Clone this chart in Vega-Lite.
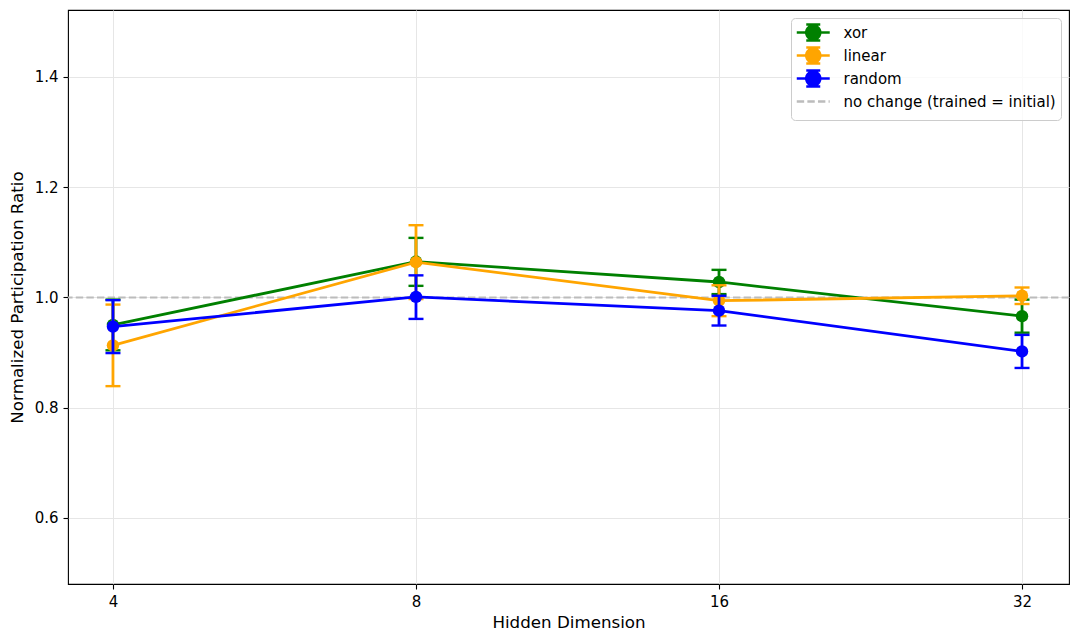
{
  "$schema": "https://vega.github.io/schema/vega-lite/v6.json",
  "width": 1001,
  "height": 574,
  "autosize": "none",
  "padding": {"left": 68, "top": 10, "right": 10, "bottom": 59},
  "background": "white",
  "config": {
    "font": "DejaVu Sans",
    "view": {"stroke": "black", "strokeWidth": 1.1},
    "axis": {
      "domain": false,
      "grid": true,
      "gridColor": "#e6e6e6",
      "gridWidth": 1,
      "tickColor": "black",
      "tickSize": 5,
      "tickWidth": 1.1,
      "labelFontSize": 15,
      "labelColor": "black",
      "labelFont": "DejaVu Sans",
      "titleFont": "DejaVu Sans",
      "titleFontSize": 16.7,
      "titleFontWeight": "normal",
      "titleColor": "black",
      "labelPadding": 5
    },
    "legend": {
      "labelFont": "DejaVu Sans",
      "labelFontSize": 15,
      "labelColor": "black",
      "labelLimit": 0
    }
  },
  "data": {
    "values": [
      {"series": "xor", "dim": 4, "mean": 0.950, "lo": 0.904, "hi": 0.996},
      {"series": "xor", "dim": 8, "mean": 1.065, "lo": 1.021, "hi": 1.108},
      {"series": "xor", "dim": 16, "mean": 1.028, "lo": 1.006, "hi": 1.050},
      {"series": "xor", "dim": 32, "mean": 0.966, "lo": 0.936, "hi": 0.996},
      {"series": "linear", "dim": 4, "mean": 0.913, "lo": 0.839, "hi": 0.987},
      {"series": "linear", "dim": 8, "mean": 1.064, "lo": 0.997, "hi": 1.131},
      {"series": "linear", "dim": 16, "mean": 0.994, "lo": 0.966, "hi": 1.022},
      {"series": "linear", "dim": 32, "mean": 1.003, "lo": 0.988, "hi": 1.018},
      {"series": "random", "dim": 4, "mean": 0.947, "lo": 0.899, "hi": 0.995},
      {"series": "random", "dim": 8, "mean": 1.001, "lo": 0.961, "hi": 1.040},
      {"series": "random", "dim": 16, "mean": 0.976, "lo": 0.949, "hi": 1.003},
      {"series": "random", "dim": 32, "mean": 0.902, "lo": 0.872, "hi": 0.932}
    ]
  },
  "layer": [
    {
      "data": {"values": [{"yv": 1.0, "series": "no change (trained = initial)"}]},
      "mark": {"type": "rule", "strokeDash": [7.4, 3.2], "strokeWidth": 2},
      "encoding": {
        "y": {"field": "yv", "type": "quantitative", "scale": {"domain": [0.48, 1.5215], "nice": false, "zero": false}, "axis": {"values": [0.6, 0.8, 1.0, 1.2, 1.4], "format": ".1f", "title": "Normalized Participation Ratio", "titlePadding": 8}},
        "color": {
          "field": "series", "type": "nominal",
          "scale": {"domain": ["xor", "linear", "random", "no change (trained = initial)"], "range": ["#008000", "#FFA500", "#0000FF", "#bcbcbc"]},
          "legend": {
            "title": null,
            "orient": "top-right",
            "offset": 8,
            "padding": 5,
            "rowPadding": -7,
            "labelOffset": 28.5,
            "labelLimit": 0,
            "strokeColor": "#cccccc",
            "fillColor": "rgba(255,255,255,0.8)",
            "cornerRadius": 4,
            "symbolSize": 272,
            "encode": {
              "symbols": {
                "update": {
                  "shape": [
                    {"test": "datum.value === 'no change (trained = initial)'", "value": "M-1.06,0H2.94M0.94,-0.97L0.94,-0.97M0.94,0.97L0.94,0.97"},
                    {"value": "M-1.06,0H2.94M0.94,-0.97V0.97M0.09,-0.97H1.79M0.09,0.97H1.79M0.09,0A0.85,0.85 0 1,0 1.79,0A0.85,0.85 0 1,0 0.09,0Z"}
                  ],
                  "fill": [
                    {"test": "datum.value === 'no change (trained = initial)'", "value": "transparent"},
                    {"scale": "color", "field": "value"}
                  ],
                  "stroke": {"scale": "color", "field": "value"},
                  "strokeDash": [
                    {"test": "datum.value === 'no change (trained = initial)'", "value": [7.4, 3.2]},
                    {"value": [1, 0]}
                  ],
                  "strokeWidth": {"value": 2.5},
                  "size": {"value": 272},
                  "opacity": {"value": 1},
                  "fillOpacity": {"value": 1}
                }
              }
            }
          }
        }
      }
    },
    {
      "transform": [{"filter": "datum.series === 'xor'"}],
      "encoding": {
        "x": {"field": "dim", "type": "quantitative", "scale": {"type": "log", "base": 2, "domain": [3.609, 35.63], "nice": false}, "axis": {"values": [4, 8, 16, 32], "format": "d", "title": "Hidden Dimension", "titlePadding": 5}},
        "color": {"field": "series", "type": "nominal"}
      },
      "layer": [
        {"mark": {"type": "line", "strokeWidth": 2.8}, "encoding": {"y": {"field": "mean", "type": "quantitative", "title": "Normalized Participation Ratio"}}},
        {"mark": {"type": "rule", "strokeWidth": 2.8}, "encoding": {"y": {"field": "lo", "type": "quantitative", "title": "Normalized Participation Ratio"}, "y2": {"field": "hi"}}},
        {"mark": {"type": "tick", "orient": "horizontal", "thickness": 2.4, "size": 15, "opacity": 1}, "encoding": {"y": {"field": "lo", "type": "quantitative", "title": "Normalized Participation Ratio"}}},
        {"mark": {"type": "tick", "orient": "horizontal", "thickness": 2.4, "size": 15, "opacity": 1}, "encoding": {"y": {"field": "hi", "type": "quantitative", "title": "Normalized Participation Ratio"}}},
        {"mark": {"type": "point", "filled": true, "size": 155, "opacity": 1}, "encoding": {"y": {"field": "mean", "type": "quantitative", "title": "Normalized Participation Ratio"}}}
      ]
    },
    {
      "transform": [{"filter": "datum.series === 'linear'"}],
      "encoding": {
        "x": {"field": "dim", "type": "quantitative"},
        "color": {"field": "series", "type": "nominal"}
      },
      "layer": [
        {"mark": {"type": "line", "strokeWidth": 2.8}, "encoding": {"y": {"field": "mean", "type": "quantitative", "title": "Normalized Participation Ratio"}}},
        {"mark": {"type": "rule", "strokeWidth": 2.8}, "encoding": {"y": {"field": "lo", "type": "quantitative", "title": "Normalized Participation Ratio"}, "y2": {"field": "hi"}}},
        {"mark": {"type": "tick", "orient": "horizontal", "thickness": 2.4, "size": 15, "opacity": 1}, "encoding": {"y": {"field": "lo", "type": "quantitative", "title": "Normalized Participation Ratio"}}},
        {"mark": {"type": "tick", "orient": "horizontal", "thickness": 2.4, "size": 15, "opacity": 1}, "encoding": {"y": {"field": "hi", "type": "quantitative", "title": "Normalized Participation Ratio"}}},
        {"mark": {"type": "point", "filled": true, "size": 155, "opacity": 1}, "encoding": {"y": {"field": "mean", "type": "quantitative", "title": "Normalized Participation Ratio"}}}
      ]
    },
    {
      "transform": [{"filter": "datum.series === 'random'"}],
      "encoding": {
        "x": {"field": "dim", "type": "quantitative"},
        "color": {"field": "series", "type": "nominal"}
      },
      "layer": [
        {"mark": {"type": "line", "strokeWidth": 2.8}, "encoding": {"y": {"field": "mean", "type": "quantitative", "title": "Normalized Participation Ratio"}}},
        {"mark": {"type": "rule", "strokeWidth": 2.8}, "encoding": {"y": {"field": "lo", "type": "quantitative", "title": "Normalized Participation Ratio"}, "y2": {"field": "hi"}}},
        {"mark": {"type": "tick", "orient": "horizontal", "thickness": 2.4, "size": 15, "opacity": 1}, "encoding": {"y": {"field": "lo", "type": "quantitative", "title": "Normalized Participation Ratio"}}},
        {"mark": {"type": "tick", "orient": "horizontal", "thickness": 2.4, "size": 15, "opacity": 1}, "encoding": {"y": {"field": "hi", "type": "quantitative", "title": "Normalized Participation Ratio"}}},
        {"mark": {"type": "point", "filled": true, "size": 155, "opacity": 1}, "encoding": {"y": {"field": "mean", "type": "quantitative", "title": "Normalized Participation Ratio"}}}
      ]
    }
  ]
}
